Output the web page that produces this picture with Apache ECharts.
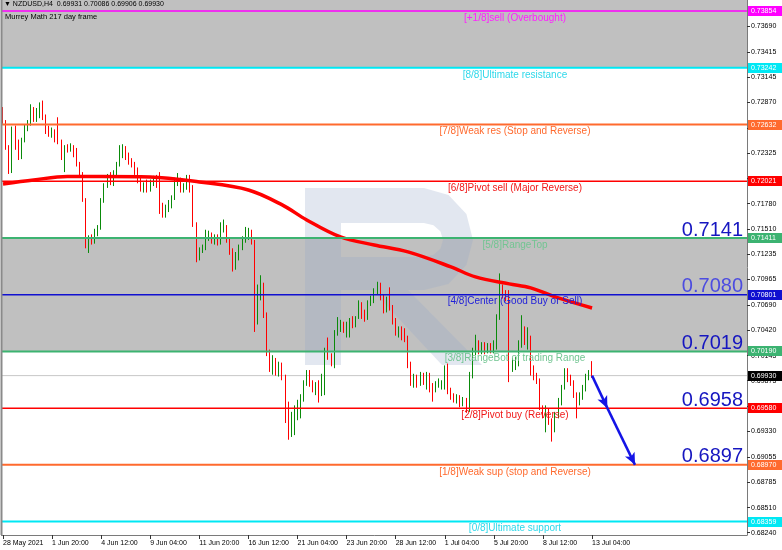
<!DOCTYPE html>
<html><head><meta charset="utf-8">
<script src="https://cdn.jsdelivr.net/npm/echarts@6/dist/echarts.min.js"></script>
<style>html,body{margin:0;padding:0;background:#fff}#c{width:782px;height:550px}</style>
</head><body><div id="c"></div>
<script>
// ---------------- DATA ----------------
const openPrices = [
.7279,.7266,.7239,.7213,.7257,.7238,.7228,.7247,.7260,.7264,
.7277,.7268,.7272,.7281,.7270,.7257,.7253,.7256,.7249,.7244,
.7222,.7239,.7236,.7239,.7234,.7220,.7209,.7182,.7134,.7141,
.7137,.7148,.7152,.7182,.7198,.7206,.7201,.7211,.7220,.7234,
.7236,.7227,.7223,.7220,.7212,.7206,.7193,.7198,.7193,.7201,
.7204,.7197,.7171,.7166,.7173,.7177,.7184,.7200,.7204,.7193,
.7196,.7198,.7195,.7155,.7121,.7128,.7131,.7142,.7144,.7137,
.7141,.7136,.7150,.7152,.7139,.7126,.7117,.7123,.7130,.7139,
.7142,.7143,.7136,.7051,.7083,.7088,.7058,.7017,.7001,.7008,
.6997,.7003,.6990,.6961,.6938,.6947,.6956,.6961,.6969,.6984,
.6990,.6984,.6979,.6982,.6975,.6978,.7018,.7013,.7006,.7038,
.7044,.7048,.7042,.7037,.7053,.7048,.7056,.7069,.7057,.7055,
.7071,.7074,.7083,.7088,.7077,.7064,.7074,.7066,.7051,.7039,
.7042,.7040,.7031,.7004,.6985,.6990,.6985,.6992,.6986,.6993,
.6980,.6978,.6983,.6982,.6980,.7001,.6975,.6970,.6967,.6969,
.6963,.6967,.6956,.6994,.7018,.7025,.7020,.7025,.7020,.7024,
.7020,.7023,.7055,.7083,.7079,.7080,.7001,.7006,.7008,.7026,
.7037,.7029,.7031,.6999,.6992,.6986,.6958,.6947,.6954,.6943,
.6937,.6951,.6965,.6980,.6995,.6990,.6985,.6972,.6965,.6971,
.6980,.6990,.69931];
const closePrices = [
.7266,.7239,.7213,.7257,.7238,.7228,.7247,.7260,.7264,.7277,
.7268,.7276,.7281,.7270,.7255,.7253,.7256,.7247,.7244,.7227,
.7239,.7236,.7239,.7230,.7220,.7211,.7182,.7134,.7141,.7137,
.7148,.7152,.7182,.7198,.7206,.7201,.7211,.7220,.7234,.7236,
.7227,.7223,.7220,.7212,.7206,.7193,.7198,.7193,.7201,.7204,
.7197,.7169,.7166,.7173,.7177,.7184,.7200,.7204,.7193,.7196,
.7198,.7193,.7155,.7121,.7128,.7131,.7142,.7144,.7137,.7141,
.7136,.7150,.7154,.7139,.7126,.7117,.7123,.7130,.7139,.7142,
.7144,.7136,.7051,.7083,.7091,.7058,.7017,.7001,.7008,.6997,
.7003,.6990,.6961,.6938,.6947,.6956,.6961,.6969,.6984,.6990,
.6984,.6979,.6982,.6975,.6990,.7018,.7013,.7008,.7038,.7044,
.7048,.7042,.7046,.7053,.7048,.7053,.7069,.7057,.7055,.7071,
.7074,.7083,.7088,.7077,.7064,.7074,.7066,.7051,.7039,.7042,
.7036,.7031,.7004,.6985,.6990,.6985,.6992,.6986,.6993,.6980,
.6978,.6983,.6985,.6984,.7001,.6975,.6970,.6967,.6969,.6963,
.6967,.6956,.6994,.7018,.7025,.7020,.7025,.7020,.7024,.7020,
.7026,.7055,.7083,.7079,.7077,.7001,.7006,.7008,.7026,.7037,
.7029,.7034,.6999,.6992,.6986,.6958,.6951,.6954,.6943,.6937,
.6951,.6965,.6980,.6995,.6990,.6985,.6972,.6965,.6971,.6980,
.6990,.6994,.69930];
const highPrices = [
.7282,.7268,.7241,.7261,.7262,.7247,.7249,.7263,.7268,.7285,
.7282,.7281,.7287,.7289,.7274,.7262,.7260,.7258,.7271,.7247,
.7241,.7242,.7243,.7241,.7238,.7223,.7212,.7184,.7144,.7145,
.7151,.7155,.7184,.7200,.7210,.7212,.7214,.7223,.7241,.7242,
.7240,.7233,.7227,.7223,.7217,.7208,.7201,.7204,.7204,.7208,
.7209,.7212,.7179,.7177,.7182,.7187,.7206,.7211,.7206,.7200,
.7209,.7209,.7198,.7158,.7131,.7134,.7150,.7149,.7147,.7145,
.7145,.7158,.7161,.7155,.7142,.7130,.7126,.7134,.7143,.7153,
.7152,.7150,.7139,.7091,.7101,.7093,.7061,.7021,.7015,.7012,
.7008,.7007,.6994,.6965,.6954,.6961,.6967,.6973,.6988,.6999,
.6999,.6988,.6986,.6988,.6995,.7023,.7034,.7017,.7042,.7056,
.7053,.7051,.7051,.7055,.7057,.7057,.7074,.7072,.7064,.7074,
.7079,.7087,.7094,.7093,.7080,.7078,.7088,.7069,.7055,.7046,
.7046,.7044,.7036,.7008,.6995,.6994,.6997,.6996,.6997,.6996,
.6985,.6987,.6990,.6988,.7004,.7006,.6980,.6974,.6973,.6972,
.6970,.6969,.6997,.7023,.7037,.7031,.7029,.7029,.7028,.7028,
.7031,.7059,.7103,.7091,.7085,.7085,.7012,.7013,.7031,.7058,
.7046,.7045,.7036,.7004,.6996,.6990,.6961,.6961,.6958,.6947,
.6954,.6969,.6983,.7001,.7001,.6994,.6988,.6975,.6975,.6983,
.6995,.6999,.70086];
const lowPrices = [
.7264,.7236,.7210,.7211,.7236,.7225,.7226,.7244,.7256,.7262,
.7266,.7266,.7270,.7268,.7253,.7250,.7249,.7244,.7242,.7225,
.7212,.7233,.7234,.7228,.7218,.7208,.7180,.7130,.7125,.7134,
.7135,.7143,.7150,.7179,.7195,.7198,.7197,.7208,.7218,.7227,
.7225,.7220,.7217,.7209,.7200,.7191,.7190,.7190,.7191,.7197,
.7195,.7167,.7163,.7163,.7169,.7173,.7182,.7197,.7190,.7190,
.7193,.7190,.7153,.7115,.7117,.7125,.7128,.7138,.7135,.7134,
.7133,.7134,.7147,.7136,.7123,.7105,.7107,.7117,.7128,.7136,
.7139,.7134,.7040,.7048,.7074,.7055,.7014,.6997,.6994,.6993,
.6992,.6988,.6942,.6924,.6927,.6929,.6945,.6947,.6965,.6982,
.6981,.6975,.6972,.6964,.6971,.6972,.7010,.7003,.7001,.7036,
.7040,.7039,.7034,.7034,.7044,.7045,.7054,.7054,.7051,.7053,
.7068,.7071,.7080,.7074,.7060,.7061,.7063,.7048,.7036,.7034,
.7031,.7029,.7001,.6982,.6980,.6980,.6982,.6983,.6978,.6975,
.6965,.6975,.6980,.6978,.6978,.6973,.6967,.6964,.6963,.6959,
.6960,.6953,.6954,.6990,.7015,.7016,.7016,.7016,.7017,.7017,
.7017,.7021,.7053,.7076,.7073,.6986,.6997,.6999,.7003,.7023,
.7026,.7021,.6993,.6988,.6984,.6956,.6947,.6932,.6940,.6922,
.6932,.6947,.6961,.6978,.6986,.6982,.6969,.6947,.6961,.6967,
.6976,.6988,.69906];

// moving average (read at selected bars)
const maBars   = [0, 10, 21, 32, 48, 64, 80, 91, 99, 110, 121, 132, 146, 154, 165, 172, 181, 192];
const maValues = [0.71993,0.72036,0.72073,0.72073,0.72068,0.72014,0.71928,0.71767,0.71605,0.71422,0.71336,0.71261,0.71100,0.70992,0.70917,0.70874,0.70766,0.70658];

const xTickLabels = ['28 May 2021','1 Jun 20:00','4 Jun 12:00','9 Jun 04:00','11 Jun 20:00','16 Jun 12:00','21 Jun 04:00','23 Jun 20:00','28 Jun 12:00','1 Jul 04:00','5 Jul 20:00','8 Jul 12:00','13 Jul 04:00'];
const yTickValues = [0.73690,0.73415,0.73145,0.72870,0.72595,0.72325,0.72050,0.71780,0.71510,0.71235,0.70965,0.70690,0.70420,0.70145,0.69875,0.69600,0.69330,0.69055,0.68785,0.68510,0.68240];

const murreyLevels = [0.73854,0.73242,0.72632,0.72021,0.71411,0.70801,0.70190,0.69580,0.68970,0.68359];
const murreyNames = ['[+1/8]sell (Overbought)','[8/8]Ultimate resistance','[7/8]Weak res (Stop and Reverse)','[6/8]Pivot sell (Major Reverse)','[5/8]RangeTop','[4/8]Center (Good Buy or Sell)','[3/8]RangeBot of trading Range','[2/8]Pivot buy (Reverse)','[1/8]Weak sup (stop and Reverse)','[0/8]Ultimate support'];
const grayZones = [[0.73242, 'top'], [0.71411, 0.70190]];
const targetLevels = [0.7141, 0.7080, 0.7019, 0.6958, 0.6897];
const currentPrice = 0.69930;
const arrowBars = [192, 197, 206];
const arrowPrices = [0.6993, 0.6958, 0.6897];
const headerText = '\u25BC NZDUSD,H4  0.69931 0.70086 0.69906 0.69930';
const indicatorText = 'Murrey Math 217 day frame';

// ---------------- STYLE / LAYOUT ----------------
const TOTAL_SLOTS = 243, TICK_STEP = 16;
const GRID_L = 1, GRID_R = 35, GRID_T = 0, GRID_B = 15, W = 782, H = 550;
const Y_MIN = 0.68215, Y_MAX = 0.73972;
const levelColors = ['#ff00ff','#00e8f4','#ff6a2e','#ff0000','#3cb371','#1010d0','#3cb371','#ff0000','#ff6a2e','#00e8f4'];
const levelWidths = [1.5,2,2,1.5,2,1.5,2,1.5,2,2];
const levelTextColors = ['#ff20ff','#2fd8ea','#ff6a2e','#f01818','#72c592','#2020d8','#72c592','#f01818','#ff6a2e','#2fd8ea'];
const targetColors = ['#1616c0','#4c4ce0','#1616c0','#1616c0','#1616c0'];
const FONT = '"Liberation Sans", Arial, sans-serif';

const categories = [];
for (let i = 0; i < TOTAL_SLOTS; i++) categories.push(String(i));
const candleData = openPrices.map((o, i) => [o, closePrices[i], lowPrices[i], highPrices[i]]);
const maData = maBars.map((b, k) => [b, maValues[k]]);
const areaData = grayZones.map(z => [{ yAxis: z[0] }, { yAxis: z[1] === 'top' ? Y_MAX : z[1] }]);
const arrowLines = [];
for (let k = 0; k < arrowBars.length - 1; k++) {
  arrowLines.push([{ coord: [arrowBars[k], arrowPrices[k]] }, { coord: [arrowBars[k + 1], arrowPrices[k + 1]] }]);
}
const tickFilter = (i) => i % TICK_STEP === 0 && i / TICK_STEP < xTickLabels.length;

const option = {
  animation: false,
  backgroundColor: '#ffffff',
  grid: { left: GRID_L, right: GRID_R, top: GRID_T, bottom: GRID_B, containLabel: false },
  xAxis: {
    type: 'category', data: categories, boundaryGap: true,
    axisLine: { show: true, lineStyle: { color: '#7a7a7a', width: 1 } },
    axisTick: { show: true, alignWithLabel: true, interval: tickFilter, length: 4, lineStyle: { color: '#333' } },
    axisLabel: { show: true, interval: tickFilter, formatter: (v, i) => xTickLabels[Math.round(Number(v) / TICK_STEP)] || '',
                 align: 'left', fontSize: 7, fontFamily: FONT, color: '#000', margin: 5 },
    splitLine: { show: false }
  },
  yAxis: {
    type: 'value', position: 'right', min: Y_MIN, max: Y_MAX, scale: true,
    axisLine: { show: true, onZero: false, lineStyle: { color: '#7a7a7a', width: 1 } },
    axisTick: { show: true, length: 3, customValues: yTickValues, lineStyle: { color: '#333' } },
    axisLabel: { show: true, customValues: yTickValues, formatter: (v) => Number(v).toFixed(5),
                 fontSize: 7, fontFamily: FONT, color: '#000', margin: 4 },
    splitLine: { show: false }
  },
  series: [
    {
      name: 'NZDUSD', type: 'candlestick', data: candleData, z: 3, barWidth: 1,
      itemStyle: { color: '#0a8a0a', color0: '#ff0000', borderColor: '#0a8a0a', borderColor0: '#ff0000', borderWidth: 1 },
      markArea: { silent: true, z: 1, itemStyle: { color: '#c0c0c0' }, data: areaData }
    },
    {
      name: 'MA', type: 'line', data: maData, z: 4, smooth: 0.35, symbol: 'none', silent: true,
      lineStyle: { color: '#ff0000', width: 3.5 },
      markLine: { silent: true, z: 6, symbol: ['none', 'arrow'], symbolSize: [8, 12],
                  lineStyle: { color: '#1414e6', width: 2.5, type: 'solid' }, label: { show: false }, data: arrowLines }
    }
  ]
};

const chart = echarts.init(document.getElementById('c'), null, { renderer: 'canvas' });
chart.setOption(option);

const yPix = (v) => chart.convertToPixel({ yAxisIndex: 0 }, v);
const X0 = GRID_L, X1 = W - GRID_R;
const LABEL_CX = 515, TARGET_RIGHT = 743;
const elements = [];
// watermark (decorative logo) built from non-overlapping pieces
const wmStyle = { fill: 'rgba(150,170,200,0.28)' };
elements.push({ type: 'rect', z: 2, silent: true, shape: { x: 305, y: 188, width: 36, height: 177 }, style: wmStyle });
elements.push({ type: 'rect', z: 2, silent: true, shape: { x: 341, y: 188, width: 83, height: 35 }, style: wmStyle });
elements.push({ type: 'rect', z: 2, silent: true, shape: { x: 341, y: 257, width: 83, height: 33 }, style: wmStyle });
elements.push({ type: 'polygon', z: 2, silent: true, shape: { points: [[424,188],[448.5,195],[466.4,214],[473,240],[466.4,265],[448.5,284],[424,290],[424,257],[433.5,254.7],[440.5,248.5],[443,240],[440.5,231.5],[433.5,225.3],[424,223]] }, style: wmStyle });
elements.push({ type: 'polygon', z: 2, silent: true, shape: { points: [[372,290],[408,290],[482,365],[442,365]] }, style: wmStyle });
// left border
elements.push({ type: 'line', z: 7, silent: true, shape: { x1: 1.5, y1: 0, x2: 1.5, y2: H - GRID_B }, style: { stroke: '#8a8a8a', lineWidth: 2 } });

function priceBox(v, bg) {
  const y = yPix(v);
  elements.push({ type: 'rect', z: 8, silent: true, shape: { x: X1 + 1, y: Math.round(y) - 5, width: W - X1 - 1, height: 10 }, style: { fill: bg } });
  elements.push({ type: 'text', z: 9, silent: true, x: X1 + 4, y: Math.round(y),
    style: { text: v.toFixed(5), fill: '#fff', font: '7px ' + FONT, textAlign: 'left', textVerticalAlign: 'middle' } });
}
// current price line
{
  const y = yPix(currentPrice);
  elements.push({ type: 'line', z: 2.5, silent: true, shape: { x1: X0, y1: y, x2: X1, y2: y }, style: { stroke: '#c8c8c8', lineWidth: 1 } });
  priceBox(currentPrice, '#000');
}
// Murrey levels: line, name, price box
murreyLevels.forEach((v, k) => {
  const y = yPix(v);
  elements.push({ type: 'line', z: 5, silent: true, shape: { x1: X0, y1: y, x2: X1, y2: y }, style: { stroke: levelColors[k], lineWidth: levelWidths[k] } });
  elements.push({ type: 'text', z: 7, silent: true, x: LABEL_CX, y: y + 2,
    style: { text: murreyNames[k], fill: levelTextColors[k], font: '10px ' + FONT, textAlign: 'center', textVerticalAlign: 'top' } });
  priceBox(v, levelColors[k]);
});
// target numbers
targetLevels.forEach((v, k) => {
  elements.push({ type: 'text', z: 7, silent: true, x: TARGET_RIGHT, y: yPix(v) + 2,
    style: { text: v.toFixed(4), fill: targetColors[k], font: '20px ' + FONT, textAlign: 'right', textVerticalAlign: 'bottom' } });
});
// header texts
elements.push({ type: 'text', z: 7, silent: true, x: 4, y: 1, style: { text: headerText, fill: '#000', font: '7px ' + FONT, textAlign: 'left', textVerticalAlign: 'top' } });
elements.push({ type: 'text', z: 7, silent: true, x: 5, y: 13, style: { text: indicatorText, fill: '#000', font: '7.5px ' + FONT, textAlign: 'left', textVerticalAlign: 'top' } });
chart.setOption({ graphic: { elements: elements } });
</script></body></html>
